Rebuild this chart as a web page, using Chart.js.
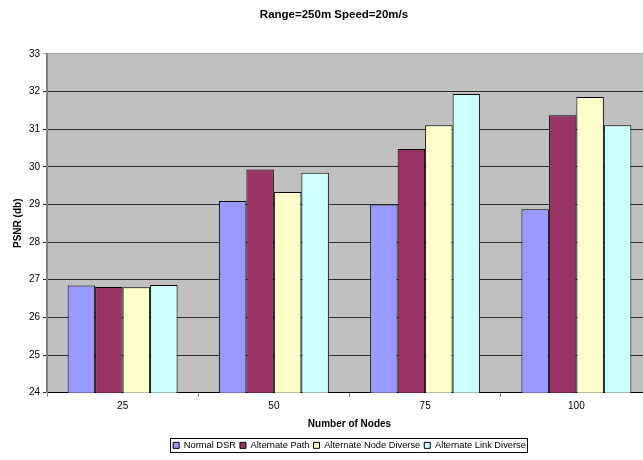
<!DOCTYPE html>
<html>
<head>
<meta charset="utf-8">
<script src="https://cdn.jsdelivr.net/npm/chart.js@4/dist/chart.umd.min.js"></script>
<style>
  html, body { margin: 0; padding: 0; background: #fff; overflow: hidden; }
  #wrap { width: 668px; height: 460px; }
</style>
</head>
<body>
<div id="wrap"><canvas id="c" width="668" height="460"></canvas></div>
<script>
// PSNR per routing scheme, by number of nodes
const nodeCounts = ['25', '50', '75', '100'];
const normalDsr = [26.85, 29.09, 29.00, 28.87];
const alternatePath = [26.81, 29.93, 30.47, 31.37];
const alternateNodeDiverse = [26.80, 29.33, 31.10, 31.85];
const alternateLinkDiverse = [26.86, 29.84, 31.93, 31.10];

const seriesNames = ['Normal DSR', 'Alternate Path', 'Alternate Node Diverse', 'Alternate Link Diverse'];
const seriesColors = ['#9999ff', '#993366', '#ffffcc', '#ccffff'];

const psnrMin = 24;
const psnrMax = 33;
const psnrStep = 1;

const chartTitle = 'Range=250m Speed=20m/s';
const xTitle = 'Number of Nodes';
const yTitle = 'PSNR (db)';

const FONT = "'Liberation Sans', Arial, sans-serif";

// grey plot area behind the grid
const plotBackground = {
  id: 'plotBackground',
  beforeDraw(chart) {
    const { ctx, chartArea: a } = chart;
    ctx.save();
    ctx.fillStyle = '#c0c0c0';
    ctx.fillRect(a.left, a.top, a.right - a.left, a.bottom - a.top);
    ctx.restore();
  }
};

// thin frame around the legend entries
const legendFrame = {
  id: 'legendFrame',
  afterDraw(chart) {
    const boxes = chart.legend && chart.legend.legendHitBoxes;
    if (!boxes || !boxes.length) return;
    let l = Infinity, t = Infinity, r = -Infinity, b = -Infinity;
    boxes.forEach(h => {
      l = Math.min(l, h.left); t = Math.min(t, h.top);
      r = Math.max(r, h.left + h.width); b = Math.max(b, h.top + h.height);
    });
    const { ctx } = chart;
    ctx.save();
    ctx.strokeStyle = '#000';
    ctx.lineWidth = 1;
    ctx.strokeRect(Math.round(l - 3) + 0.5, Math.round(t - 3) + 0.5, Math.round(r - l + 4), Math.round(b - t + 5));
    ctx.restore();
  }
};

const datasets = [normalDsr, alternatePath, alternateNodeDiverse, alternateLinkDiverse].map((vals, i) => ({
  label: seriesNames[i],
  data: vals,
  backgroundColor: seriesColors[i],
  borderColor: '#000',
  borderWidth: 1,
  borderSkipped: 'bottom',
  barPercentage: 1.0,
  categoryPercentage: 0.727
}));

new Chart(document.getElementById('c'), {
  type: 'bar',
  data: { labels: nodeCounts, datasets },
  plugins: [plotBackground, legendFrame],
  options: {
    responsive: false,
    animation: false,
    devicePixelRatio: 1,
    layout: { padding: { left: 16, right: 16, top: 0, bottom: 0 } },
    plugins: {
      title: {
        display: true,
        text: chartTitle,
        color: '#000',
        font: { family: FONT, size: 11.5, weight: 'bold' },
        padding: { top: 8, bottom: 32 }
      },
      legend: {
        position: 'bottom',
        fullSize: false,
        labels: {
          color: '#000',
          font: { family: FONT, size: 9.3 },
          boxWidth: 6,
          boxHeight: 6,
          padding: 4
        }
      },
      tooltip: { enabled: false }
    },
    scales: {
      x: {
        offset: true,
        grid: {
          offset: true,
          drawOnChartArea: false,
          drawTicks: true,
          tickLength: 4,
          color: '#808080'
        },
        border: { display: true, color: '#000', width: 1 },
        ticks: {
          color: '#000',
          font: { family: FONT, size: 10 },
          padding: 4
        },
        title: {
          display: true,
          text: xTitle,
          color: '#000',
          font: { family: FONT, size: 10, weight: 'bold' },
          padding: { top: 2, bottom: 6 }
        }
      },
      y: {
        min: psnrMin,
        max: psnrMax,
        afterFit(scale) { scale.width = 31; },
        grid: {
          drawTicks: true,
          tickLength: 4,
          color: ctx => (ctx.tick && ctx.tick.value === psnrMax ? '#a0a0a0' : '#2b2b2b')
        },
        border: { display: true, color: '#808080', width: 2 },
        ticks: {
          stepSize: psnrStep,
          color: '#000',
          font: { family: FONT, size: 10 },
          padding: 3
        },
        title: {
          display: true,
          text: yTitle,
          color: '#000',
          font: { family: FONT, size: 10, weight: 'bold' },
          padding: { top: -4, bottom: 4 }
        }
      }
    }
  }
});
</script>
</body>
</html>
